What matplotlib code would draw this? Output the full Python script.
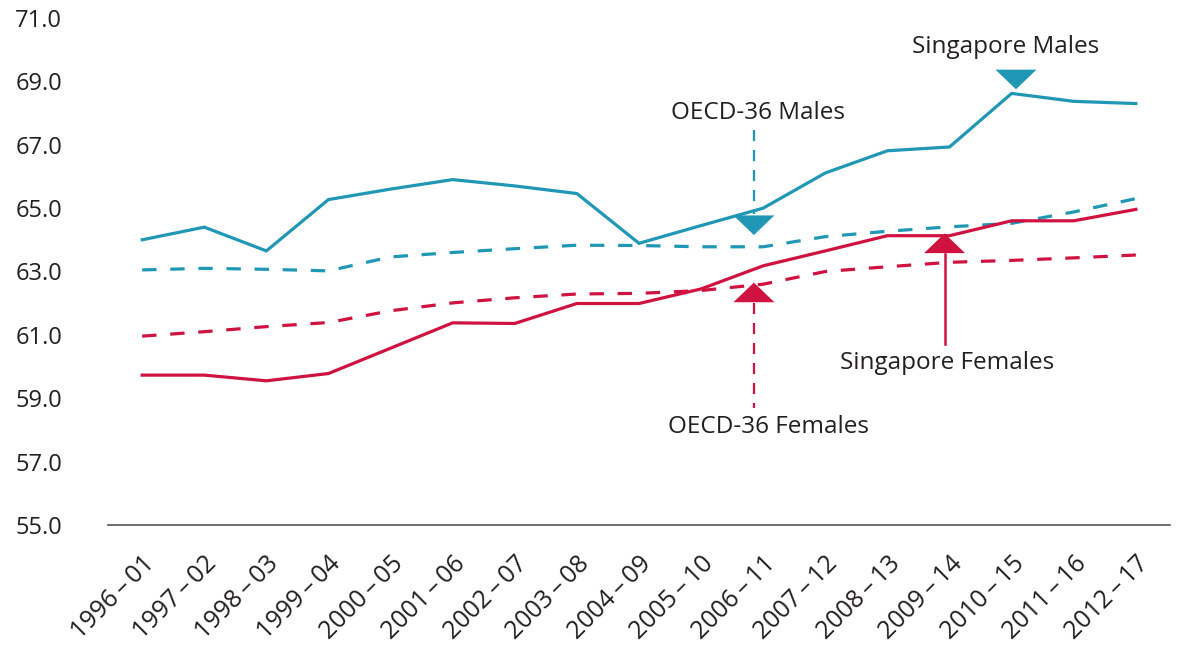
import matplotlib
matplotlib.use("Agg")
import matplotlib.pyplot as plt

plt.rcParams['font.family'] = ['Open Sans', 'DejaVu Sans']

periods = ["1996 – 01", "1997 – 02", "1998 – 03", "1999 – 04", "2000 – 05", "2001 – 06",
           "2002 – 07", "2003 – 08", "2004 – 09", "2005 – 10", "2006 – 11", "2007 – 12",
           "2008 – 13", "2009 – 14", "2010 – 15", "2011 – 16", "2012 – 17"]
periods = [p.replace(" ", "\u2009") for p in periods]

sg_males = [64.0, 64.4, 63.65, 65.27, 65.6, 65.9, 65.7, 65.46, 63.89, 64.45, 65.0,
            66.11, 66.81, 66.93, 68.62, 68.37, 68.3]
oecd_males = [63.05, 63.1, 63.07, 63.02, 63.46, 63.6, 63.72, 63.83, 63.82, 63.78, 63.78,
              64.1, 64.27, 64.41, 64.52, 64.88, 65.3]
sg_females = [59.73, 59.73, 59.55, 59.78, 60.58, 61.38, 61.36, 61.99, 61.99, 62.45, 63.18,
              63.65, 64.13, 64.13, 64.6, 64.6, 64.96]
oecd_females = [60.96, 61.1, 61.26, 61.39, 61.76, 62.01, 62.17, 62.29, 62.31, 62.4, 62.6,
                63.0, 63.15, 63.29, 63.35, 63.43, 63.52]
y_ticks = [55, 57, 59, 61, 63, 65, 67, 69, 71]

BLUE = '#2097b5'
RED = '#cf1240'
TXT = '#231f20'

fig = plt.figure(figsize=(11.78, 6.46), dpi=100)
ax = fig.add_axes([108/1178, 1-525/646, (1170-108)/1178, (525-18)/646])

x = list(range(len(periods)))
lw = 2.3
ax.plot(x, sg_males, color=BLUE, lw=lw, solid_joinstyle='miter')
ax.plot(x, oecd_males, color=BLUE, lw=lw, dashes=(4.5, 4.3))
ax.plot(x, sg_females, color=RED, lw=lw, solid_joinstyle='miter')
ax.plot(x, oecd_females, color=RED, lw=lw, dashes=(4.5, 4.3))

ax.set_xlim(-0.55, 16.55)
ax.set_ylim(55, 71)
ax.set_yticks(y_ticks)
ax.set_yticklabels([f"{v:.1f}" for v in y_ticks], fontsize=17, color=TXT)
ax.set_xticks(x)
ax.set_xticklabels(periods, rotation=45, ha='right', va='top', rotation_mode='anchor',
                   fontsize=18, color=TXT)
ax.tick_params(axis='y', length=0, pad=33)
ax.tick_params(axis='x', length=0, pad=19)
for s in ['top', 'right', 'left']:
    ax.spines[s].set_visible(False)
ax.spines['bottom'].set_color('#555555')
ax.spines['bottom'].set_linewidth(1.2)

def tri(xc, ytip, up, color):
    w = 0.33
    h = 0.62
    xs = [xc - w, xc + w, xc]
    ys = [ytip - h, ytip - h, ytip] if up else [ytip + h, ytip + h, ytip]
    ax.fill(xs, ys, color=color, lw=0, zorder=5)

FS = 17.5
# Singapore Males
tri(14.07, 68.75, False, BLUE)
ax.text(13.9, 70.1, "Singapore Males", ha='center', va='center', fontsize=FS, color=TXT)

# OECD-36 Males
xm = 9.85
tri(xm, 64.15, False, BLUE)
ax.plot([xm, xm], [67.45, 64.8], color=BLUE, lw=1.6, dashes=(5, 4))
ax.text(9.92, 68.0, "OECD-36 Males", ha='center', va='center', fontsize=FS, color=TXT)

# OECD-36 Females
tri(xm, 62.65, True, RED)
ax.plot([xm, xm], [62.0, 58.7], color=RED, lw=1.6, dashes=(5, 4))
ax.text(10.08, 58.1, "OECD-36 Females", ha='center', va='center', fontsize=FS, color=TXT)

# Singapore Females
xf = 12.92
tri(xf, 64.2, True, RED)
ax.plot([xf, xf], [63.55, 60.7], color=RED, lw=1.8)
ax.text(12.96, 60.1, "Singapore Females", ha='center', va='center', fontsize=FS, color=TXT)

fig.savefig("out.png", dpi=100)
